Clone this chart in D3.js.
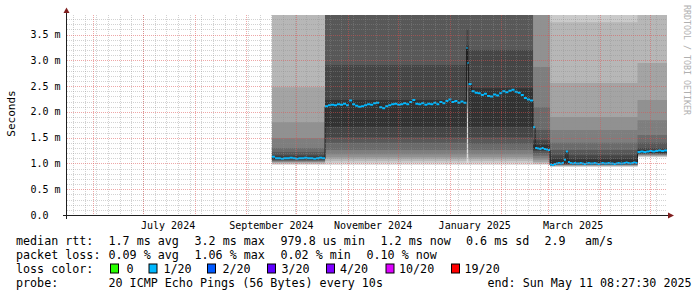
<!DOCTYPE html>
<html>
<head>
<meta charset="utf-8">
<script src="https://cdnjs.cloudflare.com/ajax/libs/d3/7.8.5/d3.min.js"></script>
<style>
body{margin:0;background:#fff;}
svg{display:block;font-family:"DejaVu Sans Mono",monospace;}
</style>
</head>
<body>
<div id="chart"></div>
<script>
var W = 697, H = 297;
var plot = {l:67, t:15, w:600, h:200};

// time frame of the graph
var endTime = new Date(2025, 4, 11, 8, 27, 30);
var spanDays = 360;
var yMaxMs = 3.88;
var yLabelTicks = [0, 0.5, 1.0, 1.5, 2.0, 2.5, 3.0, 3.5];

// smoke regimes: start, end, and the 20 sorted ping times (ms)
var regimeStart = ["2024-09-16 08:00", "2024-10-18 04:00", "2025-01-11 01:00", "2025-01-12 06:00",
                   "2025-02-19 23:00", "2025-03-02 04:00", "2025-04-23 16:00"];
var regimeEnd   = ["2024-10-18 04:00", "2025-01-11 01:00", "2025-01-12 06:00", "2025-02-19 23:00",
                   "2025-03-02 04:00", "2025-04-23 16:00", "2025-05-11 08:27"];
var regimePings = [
  [0.97,0.99,1.00,1.02,1.03,1.04,1.05,1.06,1.075,1.09, 1.13,1.16,1.22,1.30,1.49,1.80,2.48,4.2,4.5,4.8],
  [0.97,1.01,1.05,1.09,1.12,1.18,1.26,1.40,1.51,1.71, 2.23,2.91,4.1,4.3,4.5,4.7,4.9,5.1,5.3,5.6],
  [0.97,1.90,2.00,2.05,2.10,2.20,2.40,2.60,2.80,3.00, 3.30,3.60,4.1,4.3,4.5,4.7,4.9,5.1,5.3,5.6],
  [0.97,1.01,1.05,1.09,1.12,1.18,1.26,1.38,1.51,1.71, 2.46,3.20,4.1,4.3,4.5,4.7,4.9,5.1,5.3,5.6],
  [0.97,0.99,1.01,1.03,1.06,1.10,1.15,1.20,1.24,1.27, 1.36,1.45,1.65,2.09,2.87,4.1,4.3,4.6,4.9,5.2],
  [0.93,0.94,0.95,0.96,0.965,0.97,0.975,0.98,0.99,0.995, 1.08,1.16,1.26,1.40,1.65,1.90,2.56,3.74,4.3,4.6],
  [1.12,1.13,1.14,1.15,1.16,1.17,1.18,1.19,1.20,1.21, 1.26,1.30,1.40,1.55,1.84,2.23,2.95,4.2,4.5,4.8]
];
// median rtt samples (ms), spread evenly over each regime
var regimeMedian = [
  [1.13,1.10,1.10,1.09,1.10,1.10,1.11,1.10,1.09,1.10,1.10,1.11,1.10,1.10,1.09,1.10,1.11,1.10],
  [2.11,2.13,2.14,2.13,2.15,2.14,2.16,2.13,2.22,2.15,2.12,2.10,2.11,2.13,2.15,2.14,2.17,2.18,2.09,2.07,
   2.11,2.13,2.15,2.16,2.14,2.15,2.17,2.15,2.19,2.23,2.16,2.15,2.17,2.14,2.16,2.15,2.18,2.15,2.19,2.17,
   2.21,2.24,2.19,2.21,2.18,2.20,2.18],
  [3.24,2.95],
  [2.54,2.40,2.37,2.36,2.33,2.35,2.31,2.30,2.34,2.32,2.36,2.40,2.38,2.41,2.43,2.39,2.37,2.33,2.27,2.24,2.22],
  [1.70,1.30,1.29,1.28,1.30,1.28,1.27,1.26],
  [0.98,0.97,0.99,1.00,1.01,1.00,1.01,1.07,1.23,1.03,1.01,1.00,1.01,1.00,1.00,1.01,1.00,0.99,1.00,1.01,
   1.00,1.00,1.01,1.00,0.99,1.00,1.01,1.00,1.00,1.01,1.00,1.00,0.99,1.00,1.01,1.00,1.00,1.01,1.02,1.01,
   1.00,1.01,1.02,1.01],
  [1.22,1.23,1.22,1.23,1.24,1.23,1.24,1.25,1.24,1.25]
];

// legend
var rttLabels = ["median rtt:", "1.7 ms avg", "3.2 ms max", "979.8 us min", "1.2 ms now", "0.6 ms sd", "2.9", "am/s"];
var lossLabels = ["packet loss:", "0.09 % avg", "1.06 % max", "0.02 % min", "0.10 % now"];
var lossColorNames = ["0", "1/20", "2/20", "3/20", "4/20", "10/20", "19/20"];
var lossColors = ["#26ff00", "#00b8ff", "#0059ff", "#5e00ff", "#7e00ff", "#dd00ff", "#ff0000"];
var probeText = "20 ICMP Echo Pings (56 Bytes) every 10s";
var endText = "end: Sun May 11 08:27:30 2025";


var parseT = d3.timeParse("%Y-%m-%d %H:%M");
var startTime = d3.timeDay.offset(endTime, -spanDays);

var x = d3.scaleTime().domain([startTime, endTime]).range([plot.l, plot.l + plot.w]);
var y = d3.scaleLinear().domain([0, yMaxMs]).range([plot.t + plot.h, plot.t]);

var svg = d3.select("#chart").append("svg")
    .attr("width", W).attr("height", H);

svg.append("rect").attr("width", W).attr("height", H).attr("fill", "#fff");

svg.append("clipPath").attr("id", "clip")
  .append("rect")
    .attr("x", plot.l).attr("y", plot.t)
    .attr("width", plot.w).attr("height", plot.h);

var g = svg.append("g").attr("clip-path", "url(#clip)");

// ---- smoke
var smokePts = regimeStart.map(function(s, i){
    return {t: parseT(s), p: regimePings[i]};
});
smokePts.push({t: parseT(regimeEnd[regimeEnd.length - 1]), p: regimePings[regimePings.length - 1]});

var half = 10;
d3.range(1, half + 1).forEach(function(i){
    var lvl = Math.floor(190 / half * (half - i)) + 50;
    var area = d3.area()
        .curve(d3.curveStepAfter)
        .x(function(d){ return x(d.t); })
        .y0(function(d){ return y(d.p[i - 1]); })
        .y1(function(d){ return y(d.p[20 - i]); });
    g.append("path")
        .datum(smokePts)
        .attr("d", area)
        .attr("fill", d3.rgb(lvl, lvl, lvl));
});

// ---- grid
var minorY = d3.range(1, 39).filter(function(k){ return k % 5 !== 0; }).map(function(k){ return k / 10; });
var majorY = yLabelTicks.filter(function(v){ return v > 0; });
var minorX = d3.timeMonday.range(startTime, endTime);
var majorX = d3.timeMonth.range(startTime, endTime);

function px(v){ return Math.round(v) + 0.5; }

var grid = svg.append("g");
grid.selectAll(".gy").data(minorY).enter().append("line")
    .attr("x1", plot.l).attr("x2", plot.l + plot.w)
    .attr("y1", function(d){ return px(y(d)); }).attr("y2", function(d){ return px(y(d)); })
    .attr("stroke", "rgba(143,143,143,0.4)").attr("stroke-dasharray", "1,1");
grid.selectAll(".gx").data(minorX).enter().append("line")
    .attr("y1", plot.t).attr("y2", plot.t + plot.h)
    .attr("x1", function(d){ return px(x(d)); }).attr("x2", function(d){ return px(x(d)); })
    .attr("stroke", "rgba(143,143,143,0.4)").attr("stroke-dasharray", "1,1");
grid.selectAll(".my").data(majorY).enter().append("line")
    .attr("x1", plot.l).attr("x2", plot.l + plot.w)
    .attr("y1", function(d){ return px(y(d)); }).attr("y2", function(d){ return px(y(d)); })
    .attr("stroke", "rgba(222,79,79,0.5)").attr("stroke-dasharray", "1,1");
grid.selectAll(".mx").data(majorX).enter().append("line")
    .attr("y1", plot.t).attr("y2", plot.t + plot.h)
    .attr("x1", function(d){ return px(x(d)); }).attr("x2", function(d){ return px(x(d)); })
    .attr("stroke", "rgba(222,79,79,0.5)").attr("stroke-dasharray", "1,1");

// ---- median
var medPts = [];
regimeMedian.forEach(function(vals, r){
    var t0 = parseT(regimeStart[r]).getTime(), t1 = parseT(regimeEnd[r]).getTime();
    vals.forEach(function(v, j){
        medPts.push({t: new Date(t0 + (t1 - t0) * j / vals.length), v: v});
    });
});
medPts.push({t: parseT(regimeEnd[regimeEnd.length - 1]), v: medPts[medPts.length - 1].v});

var swidth = yMaxMs / plot.h;
g.append("path").datum(medPts)
    .attr("d", d3.line().curve(d3.curveStepAfter)
        .x(function(d){ return x(d.t); })
        .y(function(d){ return y(d.v) + 0.5; }))
    .attr("fill", "none").attr("stroke", "#202020").attr("stroke-width", 1);
g.append("path").datum(medPts)
    .attr("d", d3.area().curve(d3.curveStepAfter)
        .x(function(d){ return x(d.t); })
        .y0(function(d){ return y(d.v - swidth); })
        .y1(function(d){ return y(d.v + swidth); }))
    .attr("fill", lossColors[1]);

// ---- axes
var axisCol = "#1f1f1f", arrowCol = "#801f1f";
svg.append("line").attr("x1", 63).attr("x2", 669).attr("y1", 215.5).attr("y2", 215.5)
    .attr("stroke", axisCol);
svg.append("line").attr("x1", 66.5).attr("x2", 66.5).attr("y1", 219).attr("y2", 11)
    .attr("stroke", axisCol);
svg.append("path").attr("d", "M668,212.5L674,215.5L668,218.5Z").attr("fill", arrowCol);
svg.append("path").attr("d", "M63.5,13L66.5,7.5L69.5,13Z").attr("fill", arrowCol);

svg.selectAll(".ylab").data(yLabelTicks).enter().append("text")
    .attr("x", function(d){ return d === 0 ? 60.5 - 12 : 60.5; })
    .attr("y", function(d){ return y(d) + 3.5; })
    .attr("text-anchor", "end")
    .attr("font-size", "10px")
    .attr("fill", "#000")
    .text(function(d){ return d === 0 ? "0.0" : d.toFixed(1) + " m"; });

var labelMonths = d3.timeMonth.every(2).range(d3.timeMonth.floor(startTime), endTime)
    .filter(function(d){
        var c = d3.timeDay.offset(d, 15);
        return c > startTime && c < endTime;
    });
svg.selectAll(".xlab").data(labelMonths).enter().append("text")
    .attr("x", function(d){ return x(d3.timeDay.offset(d, 15)); })
    .attr("y", 228.5)
    .attr("text-anchor", "middle")
    .attr("font-size", "10px")
    .attr("fill", "#000")
    .text(d3.timeFormat("%B %Y"));

svg.append("text")
    .attr("transform", "translate(15,113.5) rotate(-90)")
    .attr("text-anchor", "middle")
    .attr("font-size", "11px")
    .attr("fill", "#000")
    .text("Seconds");

svg.append("text")
    .attr("transform", "translate(684,60) rotate(90)")
    .attr("text-anchor", "middle")
    .attr("font-size", "8.3px")
    .attr("fill", "#b0b0b0")
    .text("RRDTOOL / TOBI OETIKER");

// ---- legend
var lg = svg.append("g").attr("font-size", "11.7px").attr("fill", "#000");
var rowY = [245, 258.5, 272.5, 286.5];
var rttX = [16, 108.5, 194.5, 280.5, 380.5, 466, 544.5, 585];
var lossX = [16, 108.5, 194.5, 280.5, 366.5];
var boxX = [110, 148.5, 207, 267, 326, 385.5, 451];
var boxLabX = [126.5, 163.5, 222.5, 281.5, 340, 399, 464.5];

lg.selectAll(".rtt").data(rttLabels).enter().append("text")
    .attr("x", function(d, i){ return rttX[i]; }).attr("y", rowY[0])
    .text(function(d){ return d; });
lg.selectAll(".loss").data(lossLabels).enter().append("text")
    .attr("x", function(d, i){ return lossX[i]; }).attr("y", rowY[1])
    .text(function(d){ return d; });
lg.append("text").attr("x", 16).attr("y", rowY[2]).text("loss color:");
lg.selectAll(".lbox").data(lossColors).enter().append("rect")
    .attr("x", function(d, i){ return boxX[i] + 0.5; }).attr("y", rowY[2] - 8.5)
    .attr("width", 8).attr("height", 9)
    .attr("fill", function(d){ return d; })
    .attr("stroke", "#000");
lg.selectAll(".lname").data(lossColorNames).enter().append("text")
    .attr("x", function(d, i){ return boxLabX[i]; }).attr("y", rowY[2])
    .text(function(d){ return d; });
lg.append("text").attr("x", 16).attr("y", rowY[3]).text("probe:");
lg.append("text").attr("x", 108.5).attr("y", rowY[3]).text(probeText);
lg.append("text").attr("x", 487.5).attr("y", rowY[3]).text(endText);
</script>
</body>
</html>
